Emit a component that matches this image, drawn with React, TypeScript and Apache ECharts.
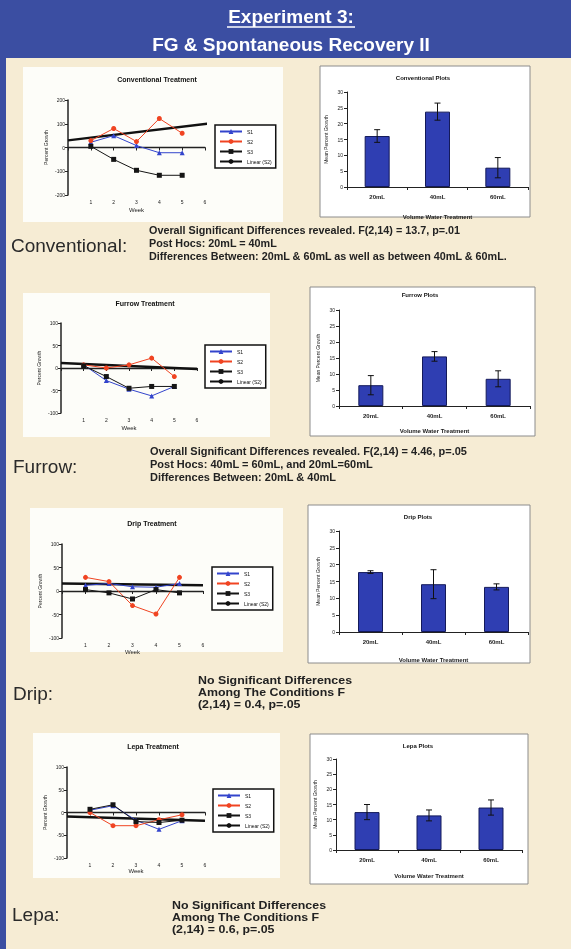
import React, { useEffect, useRef } from 'react';
import * as echarts from 'echarts';

// ---------- DATA ----------
const weeks = [1, 2, 3, 4, 5];
const weekTicks = [0, 1, 2, 3, 4, 5, 6];
const lineSeriesNames = ['S1', 'S2', 'S3'];
const trendName = 'Linear (S2)';

const convS1 = [22, 50, 8, -22, -22];
const convS2 = [29, 80, 25, 122, 60];
const convS3 = [5, -50, -96, -117, -117];
const convTrend = [[0, 30], [6.1, 100]];

const furS1 = [7, -28, -47, -62, -41];
const furS2 = [7, 0, 7, 22, -19];
const furS3 = [5, -19, -45, -41, -41];
const furTrend = [[0, 11], [6, -2]];

const dripS1 = [12, 16, 9, 8, 16];
const dripS2 = [29, 20, -31, -49, 29];
const dripS3 = [3, -4, -17, 3, -4];
const dripTrend = [[0, 16], [6, 12]];

const lepaS1 = [5, 15, -17, -37, -18];
const lepaS2 = [0, -29, -29, -16, -5];
const lepaS3 = [7, 17, -20, -22, -17];
const lepaTrend = [[0, -9], [6, -18]];

const volumes = ['20mL', '40mL', '60mL'];
const convMeans = [16.1, 23.8, 6.1];
const convErr = [2.0, 2.7, 3.2];
const furMeans = [6.5, 15.5, 8.5];
const furErr = [3.0, 1.5, 2.5];
const dripMeans = [17.8, 14.2, 13.4];
const dripErr = [0.4, 4.3, 0.9];
const lepaMeans = [12.5, 11.4, 14.0];
const lepaErr = [2.5, 1.8, 2.5];

const convStats = [
  'Overall Significant Differences revealed. F(2,14) = 13.7, p=.01',
  'Post Hocs: 20mL = 40mL',
  'Differences Between: 20mL & 60mL as well as between 40mL & 60mL.',
];
const furStats = [
  'Overall Significant Differences revealed. F(2,14) = 4.46, p=.05',
  'Post Hocs: 40mL = 60mL, and 20mL=60mL',
  'Differences Between: 20mL & 40mL',
];
const dripStats = ['No Significant Differences', 'Among The Conditions F', '(2,14) = 0.4, p=.05'];
const lepaStats = ['No Significant Differences', 'Among The Conditions F', '(2,14) = 0.6, p=.05'];

// ---------- STYLE / LAYOUT ----------
const FONT = '"Liberation Sans", Arial, Helvetica, sans-serif';
const BLUE = '#3b4ea2';
const CREAM = '#f6ecd4';
const C1 = '#3344cc';
const C2 = '#f04422';
const C3 = '#151515';

const linePanels = [
  { title: 'Conventional Treatment', tx: 157, ty: 79, box: [23, 67, 260, 155], grid: { left: 68, top: 100, width: 137, height: 95 }, yMax: 200, yInt: 100, data: [convS1, convS2, convS3], trend: convTrend, legend: [215, 125], weekGap: 12 },
  { title: 'Furrow Treatment', tx: 145, ty: 303, box: [23, 293, 247, 144], grid: { left: 61, top: 323, width: 136, height: 90 }, yMax: 100, yInt: 50, data: [furS1, furS2, furS3], trend: furTrend, legend: [205, 345], weekGap: 12 },
  { title: 'Drip Treatment', tx: 152, ty: 523, box: [30, 508, 253, 144], grid: { left: 62, top: 544, width: 141, height: 94 }, yMax: 100, yInt: 50, data: [dripS1, dripS2, dripS3], trend: dripTrend, legend: [212, 567], weekGap: 11 },
  { title: 'Lepa Treatment', tx: 153, ty: 746, box: [33, 733, 247, 145], grid: { left: 67, top: 767, width: 138, height: 91 }, yMax: 100, yInt: 50, data: [lepaS1, lepaS2, lepaS3], trend: lepaTrend, legend: [213, 789], weekGap: 9 },
];

const barPanels = [
  { title: 'Conventional Plots', tx: 423, ty: 78, box: [320, 66, 210, 151], grid: { left: 347, top: 92, width: 181, height: 95 }, means: convMeans, err: convErr, nameGap: 27 },
  { title: 'Furrow Plots', tx: 420, ty: 295, box: [310, 287, 225, 149], grid: { left: 339, top: 310, width: 191, height: 96 }, means: furMeans, err: furErr, nameGap: 22 },
  { title: 'Drip Plots', tx: 418, ty: 517, box: [308, 505, 222, 158], grid: { left: 339, top: 531, width: 189, height: 101 }, means: dripMeans, err: dripErr, nameGap: 25 },
  { title: 'Lepa Plots', tx: 418, ty: 746, box: [310, 734, 218, 150], grid: { left: 336, top: 759, width: 186, height: 91 }, means: lepaMeans, err: lepaErr, nameGap: 23 },
];

const sections = [
  { label: 'Conventional:', lx: 11, ly: 245, sx: 149, sy: [231, 244, 257], lines: convStats, font: 'bold 10px ' + FONT, sc: 1.08 },
  { label: 'Furrow:', lx: 13, ly: 466, sx: 150, sy: [451, 464, 477], lines: furStats, font: 'bold 10px ' + FONT, sc: 1.1 },
  { label: 'Drip:', lx: 13, ly: 693, sx: 198, sy: [680, 692, 704], lines: dripStats, font: 'bold 10.5px ' + FONT, sc: 1.18 },
  { label: 'Lepa:', lx: 12, ly: 914, sx: 172, sy: [905, 917, 929], lines: lepaStats, font: 'bold 10.5px ' + FONT, sc: 1.18 },
];

function buildOption() {
  const grid: any[] = [];
  const xAxis: any[] = [];
  const yAxis: any[] = [];
  const series: any[] = [];
  const legend: any[] = [];
  const graphic: any[] = [];

  graphic.push({ type: 'rect', z: 0, shape: { x: 0, y: 0, width: 571, height: 949 }, style: { fill: CREAM } });
  graphic.push({ type: 'rect', z: 0, shape: { x: 0, y: 0, width: 571, height: 58 }, style: { fill: BLUE } });
  graphic.push({ type: 'rect', z: 0, shape: { x: 0, y: 0, width: 6, height: 949 }, style: { fill: BLUE } });
  graphic.push({ type: 'text', z: 1, style: { text: 'Experiment 3:', x: 291, y: 16, textAlign: 'center', textVerticalAlign: 'middle', font: 'bold 19px ' + FONT, fill: '#ffffff' } });
  graphic.push({ type: 'line', z: 1, shape: { x1: 227, y1: 27, x2: 355, y2: 27 }, style: { stroke: '#ffffff', lineWidth: 1.3 } });
  graphic.push({ type: 'text', z: 1, style: { text: 'FG & Spontaneous Recovery II', x: 291, y: 44, textAlign: 'center', textVerticalAlign: 'middle', font: 'bold 19px ' + FONT, fill: '#ffffff' } });

  linePanels.forEach((p, i) => {
    graphic.push({ type: 'rect', z: 0, shape: { x: p.box[0], y: p.box[1], width: p.box[2], height: p.box[3] }, style: { fill: '#fdfdf9' } });
    graphic.push({ type: 'text', z: 1, style: { text: p.title, x: p.tx, y: p.ty, textAlign: 'center', textVerticalAlign: 'middle', font: 'bold 7px ' + FONT, fill: '#111' } });
    grid.push({ ...p.grid, containLabel: false });
    xAxis.push({
      type: 'value', gridIndex: i, min: weekTicks[0], max: weekTicks[weekTicks.length - 1], interval: 1,
      axisLine: { onZero: true, lineStyle: { color: '#222', width: 1.3 } },
      axisTick: { show: true, length: 3, lineStyle: { color: '#222' } },
      axisLabel: { fontSize: 5, color: '#222', margin: 4, fontFamily: FONT, formatter: (v: number) => (v === 0 ? '' : String(v)) },
      splitLine: { show: false },
      name: 'Week', nameLocation: 'middle', nameGap: p.weekGap, nameTextStyle: { fontSize: 6, fontFamily: FONT, color: '#222' },
    });
    yAxis.push({
      type: 'value', gridIndex: i, min: -p.yMax, max: p.yMax, interval: p.yInt,
      axisLine: { show: true, lineStyle: { color: '#222', width: 1.5 } },
      axisTick: { show: true, length: 3, lineStyle: { color: '#222' } },
      axisLabel: { fontSize: 5, color: '#222', margin: 3, fontFamily: FONT },
      splitLine: { show: false },
      name: 'Percent Growth', nameLocation: 'middle', nameGap: 20, nameRotate: 90, nameTextStyle: { fontSize: 5, fontFamily: FONT, color: '#222' },
    });
    const colors = [C1, C2, C3];
    const symbols = ['triangle', 'circle', 'rect'];
    p.data.forEach((vals, k) => {
      series.push({
        type: 'line', name: lineSeriesNames[k], xAxisIndex: i, yAxisIndex: i, silent: true,
        data: weeks.map((w, j) => [w, vals[j]]),
        symbol: symbols[k], symbolSize: 5,
        lineStyle: { color: colors[k], width: 1 }, itemStyle: { color: colors[k] }, z: 3,
      });
    });
    series.push({
      type: 'line', name: trendName, xAxisIndex: i, yAxisIndex: i, silent: true, clip: false,
      data: p.trend, symbol: 'none', lineStyle: { color: '#111', width: 2.5 }, itemStyle: { color: '#111' }, z: 2,
    });
    legend.push({
      orient: 'vertical', left: p.legend[0], top: p.legend[1], selectedMode: false,
      data: [...lineSeriesNames, trendName], itemWidth: 22, itemHeight: 6, itemGap: 5,
      padding: [4, 4, 4, 4], borderColor: '#111', borderWidth: 1.5, backgroundColor: '#ffffff',
      textStyle: { fontSize: 5, color: '#111', fontFamily: FONT },
    });
  });

  barPanels.forEach((p, j) => {
    const gi = linePanels.length + j;
    graphic.push({ type: 'rect', z: 0, shape: { x: p.box[0], y: p.box[1], width: p.box[2], height: p.box[3] }, style: { fill: '#ffffff', stroke: '#8c8c8c', lineWidth: 1 } });
    graphic.push({ type: 'text', z: 1, style: { text: p.title, x: p.tx, y: p.ty, textAlign: 'center', textVerticalAlign: 'middle', font: 'bold 6px ' + FONT, fill: '#111' } });
    grid.push({ ...p.grid, containLabel: false });
    xAxis.push({
      type: 'category', gridIndex: gi, data: volumes,
      axisLine: { lineStyle: { color: '#222', width: 1 } },
      axisTick: { show: true, length: 3, lineStyle: { color: '#222' } },
      axisLabel: { fontSize: 6, fontWeight: 'bold', color: '#222', margin: 7, fontFamily: FONT },
      name: 'Volume Water Treatment', nameLocation: 'middle', nameGap: p.nameGap,
      nameTextStyle: { fontSize: 6, fontWeight: 'bold', fontFamily: FONT, color: '#222' },
    });
    yAxis.push({
      type: 'value', gridIndex: gi, min: 0, max: 30, interval: 5,
      axisLine: { show: true, lineStyle: { color: '#222', width: 1 } },
      axisTick: { show: true, length: 3, lineStyle: { color: '#222' } },
      axisLabel: { fontSize: 5, color: '#222', margin: 4, fontFamily: FONT },
      splitLine: { show: false },
      name: 'Mean Percent Growth', nameLocation: 'middle', nameGap: 19, nameRotate: 90,
      nameTextStyle: { fontSize: 5, fontFamily: FONT, color: '#222' },
    });
    series.push({
      type: 'bar', xAxisIndex: gi, yAxisIndex: gi, silent: true, data: p.means, barWidth: 25,
      itemStyle: { color: '#2f3eb2', borderColor: '#141a5a', borderWidth: 1 }, z: 2,
    });
    series.push({
      type: 'custom', xAxisIndex: gi, yAxisIndex: gi, silent: true, z: 5,
      data: p.means.map((m, k) => [k, m - p.err[k], m + p.err[k]]),
      renderItem: (params: any, api: any) => {
        const top = api.coord([api.value(0), api.value(2)]);
        const bot = api.coord([api.value(0), api.value(1)]);
        const w = 3;
        const st = { stroke: '#111', lineWidth: 1 };
        return {
          type: 'group',
          children: [
            { type: 'line', shape: { x1: top[0], y1: top[1], x2: bot[0], y2: bot[1] }, style: st },
            { type: 'line', shape: { x1: top[0] - w, y1: top[1], x2: top[0] + w, y2: top[1] }, style: st },
            { type: 'line', shape: { x1: bot[0] - w, y1: bot[1], x2: bot[0] + w, y2: bot[1] }, style: st },
          ],
        };
      },
    });
  });

  sections.forEach((s) => {
    graphic.push({ type: 'text', z: 1, style: { text: s.label, x: s.lx, y: s.ly, textVerticalAlign: 'middle', font: '19px ' + FONT, fill: '#2a2a2a' } });
    s.lines.forEach((t, k) => {
      graphic.push({
        type: 'text', z: 1, x: s.sx, y: s.sy[k], scaleX: s.sc, scaleY: 1,
        style: { text: t, x: 0, y: 0, textVerticalAlign: 'middle', font: s.font, fill: '#222' },
      });
    });
  });

  return {
    animation: false,
    textStyle: { fontFamily: FONT },
    graphic: { elements: graphic },
    grid, xAxis, yAxis, series, legend,
  };
}

export default function App() {
  const ref = useRef<HTMLDivElement>(null);
  useEffect(() => {
    const chart = echarts.init(ref.current as HTMLDivElement, null, { renderer: 'svg' });
    chart.setOption(buildOption() as any);
    return () => chart.dispose();
  }, []);
  return (
    <div style={{ position: 'fixed', left: 0, top: 0, width: 571, height: 949 }}>
      <div ref={ref} style={{ width: 571, height: 949 }} />
    </div>
  );
}
